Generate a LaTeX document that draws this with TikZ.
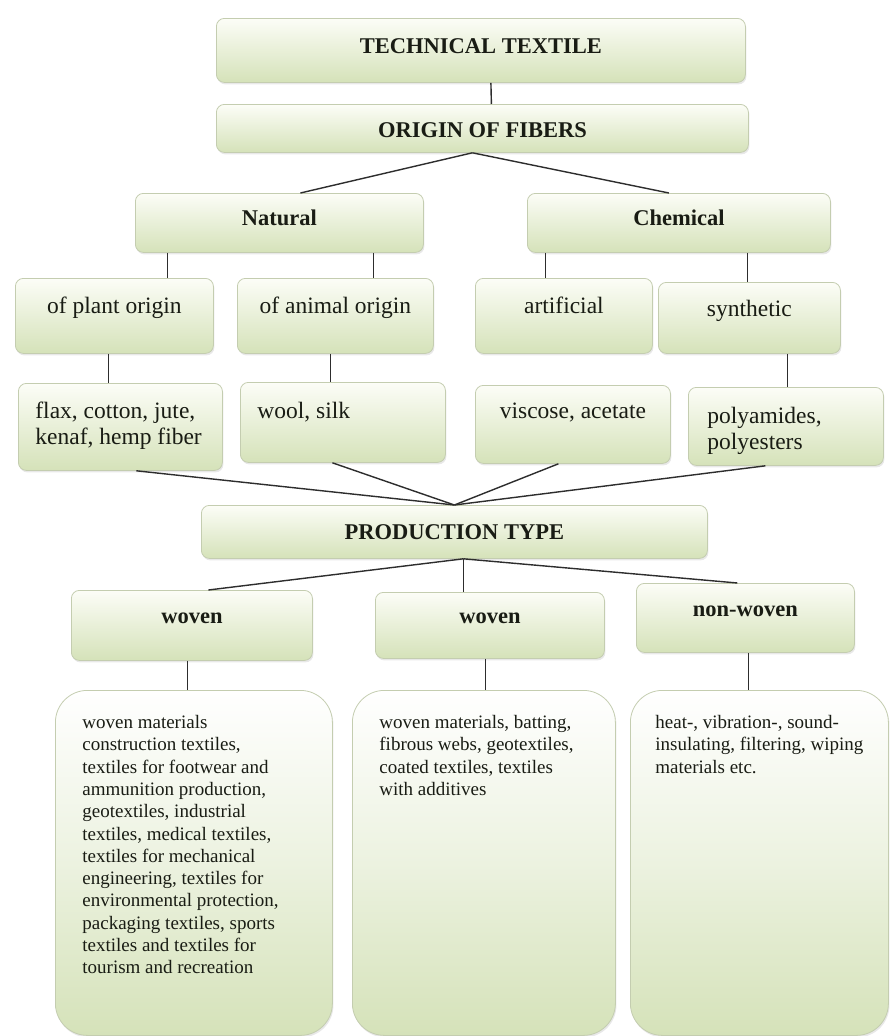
\documentclass[tikz,border=0pt]{standalone}
\usepackage{fontspec}
\setmainfont{Liberation Serif}
\usetikzlibrary{shadows}
\definecolor{boxtop}{RGB}{252,253,247}
\definecolor{boxmid}{RGB}{236,242,224}
\definecolor{boxbot}{RGB}{213,226,185}
\definecolor{boxline}{RGB}{196,205,176}
\definecolor{linkc}{RGB}{45,45,45}
\definecolor{txt}{RGB}{25,28,20}
\newcommand{\hdfont}{\fontsize{22.5}{26}\selectfont\bfseries}
\newcommand{\mdfont}{\fontsize{23.5}{25.5}\selectfont}
\newcommand{\smfont}{\fontsize{19}{22.3}\selectfont}
% name, style, left, top, width, height, content
\newcommand{\tbox}[7]{\node[#2, anchor=north west] (#1) at (#3,#4) {\parbox[c][#6pt][t]{#5pt}{#7}};}
\begin{document}
\begin{tikzpicture}[x=1pt,y=-1pt,
  box/.style={draw=boxline, line width=0.8pt, rounded corners=8pt, inner sep=0pt,
    top color=boxtop, bottom color=boxbot, text=txt,
    drop shadow={opacity=0.18, shadow xshift=1pt, shadow yshift=-2pt}},
  bigbox/.style={box, rounded corners=32pt, top color=white, bottom color=boxbot, middle color=boxmid},
  link/.style={draw=linkc, line width=1.4pt}]
\fill[white] (0,0) rectangle (890,1036);
\useasboundingbox (0,0) rectangle (890,1036);

\tbox{tt}{box}{216}{18}{529}{64}{\vspace*{20pt}\centering\hdfont TECHNICAL TEXTILE\par}
\tbox{origin}{box}{216}{104}{532}{48}{\vspace*{18pt}\centering\hdfont ORIGIN OF FIBERS\par}

\tbox{natural}{box}{135}{193}{288}{59}{\vspace*{16pt}\centering\hdfont Natural\par}
\tbox{chemical}{box}{527}{193}{303}{59}{\vspace*{16pt}\centering\hdfont Chemical\par}

\tbox{plant}{box}{15}{278}{198}{75}{\vspace*{19pt}\centering\mdfont of plant origin\par}
\tbox{animal}{box}{237}{278}{196}{75}{\vspace*{19pt}\centering\mdfont of animal origin\par}
\tbox{artificial}{box}{475}{278}{177}{75}{\vspace*{19pt}\centering\mdfont artificial\par}
\tbox{synthetic}{box}{658}{282}{182}{71}{\vspace*{18pt}\centering\mdfont synthetic\par}

\tbox{flax}{box}{18}{383}{204}{87}{\vspace*{19pt}\raggedright\leftskip=17pt\mdfont flax, cotton, jute,\\ kenaf, hemp fiber\par}
\tbox{wool}{box}{240}{382}{205}{80}{\vspace*{20pt}\raggedright\leftskip=17pt\mdfont wool, silk\par}
\tbox{viscose}{box}{475}{385}{195}{78}{\vspace*{18pt}\centering\mdfont viscose, acetate\par}
\tbox{poly}{box}{688}{387}{195}{78}{\vspace*{20pt}\raggedright\leftskip=19pt\mdfont polyamides,\\ polyesters\par}

\tbox{prod}{box}{201}{505}{506}{53}{\vspace*{19pt}\centering\hdfont PRODUCTION TYPE\par}

\tbox{woven1}{box}{71}{590}{241}{70}{\vspace*{22pt}\centering\hdfont woven\par}
\tbox{woven2}{box}{375}{592}{229}{66}{\vspace*{20pt}\centering\hdfont woven\par}
\tbox{nonwoven}{box}{636}{583}{218}{69}{\vspace*{22pt}\centering\hdfont non-woven\par}

\tbox{b1}{bigbox}{55}{690}{277}{345}{\vspace*{25pt}\raggedright\leftskip=27pt\smfont woven materials\\ construction textiles,\\ textiles for footwear and\\ ammunition production,\\ geotextiles, industrial\\ textiles, medical textiles,\\ textiles for mechanical\\ engineering, textiles for\\ environmental protection,\\ packaging textiles, sports\\ textiles and textiles for\\ tourism and recreation\par}
\tbox{b2}{bigbox}{352}{690}{263}{345}{\vspace*{25pt}\raggedright\leftskip=27pt\smfont woven materials, batting,\\ fibrous webs, geotextiles,\\ coated textiles, textiles\\ with additives\par}
\tbox{b3}{bigbox}{630}{690}{258}{345}{\vspace*{25pt}\raggedright\leftskip=25pt\smfont heat-, vibration-, sound-\\ insulating, filtering, wiping\\ materials etc.\par}

% connectors
\draw[link] ([xshift=10pt]tt.south) -- ([xshift=9pt]origin.north);
\draw[link] ([xshift=-10pt]origin.south) -- ([xshift=21pt]natural.north);
\draw[link] ([xshift=-10pt]origin.south) -- ([xshift=-10pt]chemical.north);
\draw[link] ([xshift=-112pt]natural.south) -- ([xshift=53pt]plant.north);
\draw[link] ([xshift=94pt]natural.south) -- ([xshift=38pt]animal.north);
\draw[link] ([xshift=-133.5pt]chemical.south) -- ([xshift=-18.5pt]artificial.north);
\draw[link] ([xshift=68.5pt]chemical.south) -- ([xshift=-2pt]synthetic.north);
\draw[link] ([xshift=-6pt]plant.south) -- ([xshift=-12pt]flax.north);
\draw[link] ([xshift=-5pt]animal.south) -- ([xshift=-12.5pt]wool.north);
\draw[link] ([xshift=38pt]synthetic.south) -- ([xshift=1.5pt]poly.north);
\draw[link] ([xshift=16pt]flax.south) -- (prod.north);
\draw[link] ([xshift=-10.5pt]wool.south) -- (prod.north);
\draw[link] ([xshift=-14.5pt]viscose.south) -- (prod.north);
\draw[link] ([xshift=-20.5pt]poly.south) -- (prod.north);
\draw[link] ([xshift=9pt]prod.south) -- ([xshift=16.5pt]woven1.north);
\draw[link] ([xshift=9pt]prod.south) -- ([xshift=-26.5pt]woven2.north);
\draw[link] ([xshift=9pt]prod.south) -- ([xshift=-8pt]nonwoven.north);
\draw[link] ([xshift=-4.5pt]woven1.south) -- ([xshift=-6.5pt]b1.north);
\draw[link] ([xshift=-4.5pt]woven2.south) -- ([xshift=1.5pt]b2.north);
\draw[link] ([xshift=3pt]nonwoven.south) -- ([xshift=-11pt]b3.north);
\end{tikzpicture}
\end{document}
